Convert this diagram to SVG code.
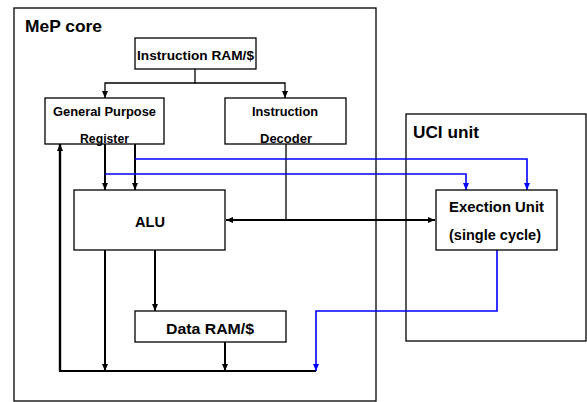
<svg xmlns="http://www.w3.org/2000/svg" width="587" height="402" viewBox="0 0 587 402">
<style>
.box{fill:#fff;stroke:#000;stroke-width:1.3}
.frame{fill:none;stroke:#000;stroke-width:1.3}
.t{font-family:"Liberation Sans",Arial,sans-serif;font-weight:bold;font-size:13px;fill:#000}
.big{font-size:16.5px}
.m{font-size:14.5px}
.blk{fill:none;stroke:#000;stroke-width:2}
.thin{fill:none;stroke:#000;stroke-width:1.3}
.blu{fill:none;stroke:#0000ff;stroke-width:1.6}
</style>
<defs>
<marker id="ab" markerUnits="userSpaceOnUse" markerWidth="8" markerHeight="8" viewBox="0 0 8 8" refX="7" refY="4" orient="auto">
<path d="M0,1 L7,4 L0,7 z" fill="#000"/>
</marker>
<marker id="abs" markerUnits="userSpaceOnUse" markerWidth="8" markerHeight="8" viewBox="0 0 8 8" refX="1" refY="4" orient="auto">
<path d="M8,1 L1,4 L8,7 z" fill="#000"/>
</marker>
<marker id="au" markerUnits="userSpaceOnUse" markerWidth="8" markerHeight="8" viewBox="0 0 8 8" refX="7" refY="4" orient="auto">
<path d="M0,1 L7,4 L0,7 z" fill="#0000ff"/>
</marker>
</defs>

<g id="mep-core">
<rect class="frame" x="14" y="8" width="362" height="393"/>
<text class="t big" x="25" y="31.5" textLength="77" lengthAdjust="spacingAndGlyphs">MeP core</text>
</g>
<g id="uci-unit">
<rect class="frame" x="406" y="114" width="180" height="227"/>
<text class="t big" x="413" y="137.5" textLength="66" lengthAdjust="spacingAndGlyphs">UCI unit</text>
</g>

<g id="connectors">
<path class="thin" d="M195,69 V83 H105 V98" marker-end="url(#ab)"/>
<path class="thin" d="M195,83 H285 V98" marker-end="url(#ab)"/>
<path class="blk" d="M105,144 V190" marker-end="url(#ab)"/>
<path class="blk" d="M135,144 V190" marker-end="url(#ab)"/>
<path class="blk" style="stroke-width:2.4" d="M60,371 V144" marker-end="url(#ab)"/>
<path class="blk" d="M59,371 H316"/>
<path class="blk" d="M105,250 V371" marker-end="url(#ab)"/>
<path class="blk" d="M155,250 V311" marker-end="url(#ab)"/>
<path class="blk" d="M225,342 V371" marker-end="url(#ab)"/>
<path class="thin" d="M286,144 V220"/>
<path class="blk" d="M226,220 H435" marker-start="url(#abs)" marker-end="url(#ab)"/>
<path class="blu" d="M135,159 H527 V190" marker-end="url(#au)"/>
<path class="blu" d="M105,174 H466 V190" marker-end="url(#au)"/>
<path class="blu" d="M497,250 V311 H316 V371" marker-end="url(#au)"/>
</g>

<g id="instruction-ram">
<rect class="box" x="135" y="38" width="121" height="31"/>
<text class="t" x="137" y="59.5" textLength="117" lengthAdjust="spacingAndGlyphs">Instruction RAM/$</text>
</g>
<g id="gpr">
<rect class="box" x="45" y="98" width="119" height="46"/>
<text class="t" x="53" y="116" textLength="103" lengthAdjust="spacingAndGlyphs">General Purpose</text>
<text class="t" x="80" y="142.5" textLength="49" lengthAdjust="spacingAndGlyphs">Register</text>
</g>
<g id="instruction-decoder">
<rect class="box" x="225" y="98" width="121" height="46"/>
<text class="t" x="252" y="116" textLength="66" lengthAdjust="spacingAndGlyphs">Instruction</text>
<text class="t" x="260" y="142.5" textLength="52" lengthAdjust="spacingAndGlyphs">Decoder</text>
</g>
<g id="alu">
<rect class="box" x="74" y="190" width="151" height="60"/>
<text class="t m" x="135" y="227" textLength="30" lengthAdjust="spacingAndGlyphs">ALU</text>
</g>
<g id="data-ram">
<rect class="box" x="135" y="311" width="151" height="31"/>
<text class="t m" x="166" y="334" textLength="88" lengthAdjust="spacingAndGlyphs">Data RAM/$</text>
</g>
<g id="execution-unit">
<rect class="box" x="436" y="190" width="121" height="60"/>
<text class="t m" x="449" y="212" textLength="95" lengthAdjust="spacingAndGlyphs">Exection Unit</text>
<text class="t m" x="449" y="240" textLength="92" lengthAdjust="spacingAndGlyphs">(single cycle)</text>
</g>
</svg>
